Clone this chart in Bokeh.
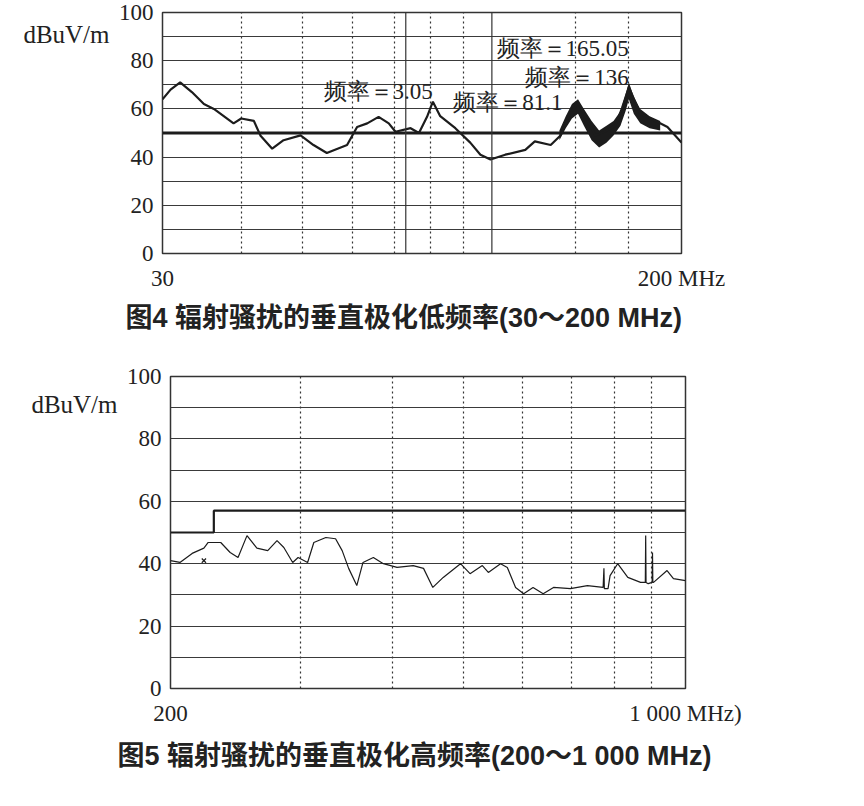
from bokeh.plotting import figure
from bokeh.models import Range1d, FixedTicker, Span, LinearAxis, ColumnDataSource
from bokeh.core.properties import value
from bokeh.embed import file_html
from bokeh.resources import INLINE

# ---------------- Figure 4 data (30-200 MHz) ----------------
f4_freq = [30, 30.9, 32.0, 33.4, 34.9, 36.2, 38.9, 40, 41.9, 42.9, 44.8, 46.7, 49.7,
           52.1, 54.7, 58.9, 61.1, 63.4, 66.1, 68.6, 70.3, 74.3, 76.6, 78.9, 80.6,
           82.8, 87.5, 92.4, 95.9, 99.5, 105, 113, 117, 124, 128.5, 133, 137, 141,
           146, 151, 157, 161, 165, 172, 182, 190, 200]
f4_level = [64, 68, 71, 67, 62, 60, 54, 56, 55, 49, 43.5, 47, 49,
            45, 41.7, 45, 52.5, 54, 56.7, 54, 50.5, 52, 50, 56.7, 63,
            57, 52, 46, 41, 39, 41, 43, 46.5, 45, 49, 58, 62.5, 56.5,
            49, 50.5, 53, 60.5, 69, 58, 55, 52.5, 46]
# noisy envelope of the trace between 128 and 185 MHz
f4_band_freq = [128, 131, 134, 137, 140, 144, 148, 152, 156, 160, 163, 165, 168, 172, 178, 185]
f4_band_hi = [51, 57, 62, 64, 60, 55, 51, 53, 55, 59, 66, 71, 65, 60, 57, 55]
f4_band_lo = [47, 52, 56, 58, 53, 47, 44, 46, 49, 53, 59, 64, 58, 54, 52, 51]
f4_limit_freq = [30, 200]
f4_limit_level = [50, 50]
f4_grid_dotted = [40, 50, 60, 70, 80, 90, 136, 165]
f4_grid_solid = [73, 100]
f4_ann_freq = [80.6, 129.4, 165, 165]
f4_ann_level = [67.2, 62.8, 72.9, 85]
f4_ann_text = ["频率＝3.05", "频率＝81.1", "频率＝136", "频率＝165.05"]
f4_xticks = [30, 200]
f4_xlabels = ["30", "200 MHz"]
caption4 = "图4  辐射骚扰的垂直极化低频率(30～200 MHz)"

# ---------------- Figure 5 data (200-1000 MHz) ----------------
f5_freq = [200, 206, 214, 222, 225, 234, 241, 247, 254, 262, 271, 279, 285, 293, 298,
           307, 313, 325, 335, 342, 349, 358, 365, 377, 389, 406, 427, 441, 454,
           469, 495, 510, 530, 540, 561, 573, 588, 603, 621, 641, 662, 698, 736,
           773, 775, 776, 785, 790, 809, 835, 869, 882, 883, 884, 890, 901, 902, 903,
           905, 944, 963, 1000]
f5_level = [41, 40.4, 43.3, 45, 46.8, 46.8, 43.6, 42, 49, 45, 44.2, 47.4, 45.2, 40.4, 42,
            40.4, 46.8, 48.4, 48, 44.2, 38.5, 33, 40.4, 42, 40, 38.8, 39.4, 38.5, 32.4,
            35.6, 40, 36.8, 39.4, 37.2, 40, 38.8, 32.4, 30.4, 32.4, 30.4, 32.4, 32, 33,
            32.4, 38.5, 32, 32, 36.2, 40, 35.6, 34, 34, 49, 34, 33.6, 34, 43.6, 34,
            34, 37.8, 35.2, 34.6]
f5_limit_freq = [200, 229, 229, 1000]
f5_limit_level = [50, 50, 57, 57]
f5_grid_dotted = [300, 400, 500, 600, 700, 800, 900]
f5_mark_freq = [222]
f5_mark_level = [41]
f5_xticks = [200, 1000]
f5_xlabels = ["200", "1 000 MHz)"]
caption5 = "图5  辐射骚扰的垂直极化高频率(200～1 000 MHz)"

y_label_ticks = [0, 20, 40, 60, 80, 100]
y_grid_ticks = [0, 10, 20, 30, 40, 50, 60, 70, 80, 90, 100]
unit_label = "dBuV/m"
unit_level = 91

SERIF = "Liberation Serif"
CAPTION_FONT = "Liberation Sans, Noto Sans CJK SC"
INK = "#1c1c1c"
TXT = "#222222"


def base_fig(xr, width, height, bl, br, bt, bb, caption, cap_offset, cap_standoff,
             xticks, xlabels, grid_dotted):
    p = figure(width=width, height=height, x_axis_type="log",
               x_range=Range1d(*xr), y_range=Range1d(0, 100),
               output_backend="svg", toolbar_location=None,
               min_border_left=bl, min_border_right=br,
               min_border_top=bt, min_border_bottom=bb,
               title=caption, title_location="below")
    p.background_fill_color = "white"
    p.border_fill_color = "white"
    p.outline_line_color = "#333333"
    p.outline_line_width = 1.5
    p.title.align = "left"
    p.title.offset = cap_offset
    p.title.text_font = CAPTION_FONT
    p.title.text_font_size = "27px"
    p.title.text_font_style = "bold"
    p.title.text_color = TXT
    p.title.standoff = cap_standoff

    p.yaxis.ticker = FixedTicker(ticks=y_label_ticks)
    p.ygrid.ticker = FixedTicker(ticks=y_grid_ticks)
    p.ygrid.grid_line_color = "#3a3a3a"
    p.ygrid.grid_line_width = 1.2
    p.xaxis.ticker = FixedTicker(ticks=xticks)
    p.xaxis.major_label_overrides = {t: s for t, s in zip(xticks, xlabels)}
    p.xgrid.ticker = FixedTicker(ticks=grid_dotted)
    p.xgrid.grid_line_color = "#333333"
    p.xgrid.grid_line_dash = "2 3"
    p.xgrid.grid_line_width = 1.2

    unit_axis = LinearAxis(ticker=FixedTicker(ticks=[unit_level]),
                           major_label_overrides={unit_level: unit_label})
    p.add_layout(unit_axis, "left")
    for ax in (p.xaxis[0], p.yaxis[0], unit_axis):
        ax.axis_line_color = None
        ax.major_tick_line_color = None
        ax.minor_tick_line_color = None
        ax.major_label_text_font = SERIF
        ax.major_label_text_font_size = "23px"
        ax.major_label_text_color = TXT
    unit_axis.major_label_text_font_size = "25px"
    p.yaxis[0].major_label_standoff = 3
    unit_axis.major_label_standoff = 0
    p.xaxis.major_label_standoff = 6
    return p


# ---------- Figure 4 ----------
p1 = base_fig((30, 200), 768, 343, 162, 87, 12, 90, caption4, -37, 14,
              f4_xticks, f4_xlabels, f4_grid_dotted)
for loc in f4_grid_solid:
    p1.add_layout(Span(location=loc, dimension="height", line_color="#333333", line_width=1.2))
p1.line(f4_limit_freq, f4_limit_level, line_color=INK, line_width=3)
p1.varea(x=f4_band_freq, y1=f4_band_lo, y2=f4_band_hi, fill_color=INK)
p1.line(f4_freq, f4_level, line_color=INK, line_width=2.2)
src4 = ColumnDataSource(dict(x=f4_ann_freq, y=f4_ann_level, t=f4_ann_text))
p1.text(x="x", y="y", text="t", source=src4, text_font=value(SERIF),
        text_font_size="23px", text_color=TXT, text_baseline="middle",
        text_align="right")

# ---------- Figure 5 ----------
p2 = base_fig((200, 1000), 768, 445, 170, 83, 33, 100, caption5, -53, 20,
              f5_xticks, f5_xlabels, f5_grid_dotted)
p2.line(f5_limit_freq, f5_limit_level, line_color=INK, line_width=2.2)
p2.line(f5_freq, f5_level, line_color=INK, line_width=1.2)
p2.scatter(f5_mark_freq, f5_mark_level, marker="x", size=6, line_color=INK, line_width=1.2)

open("out.html", "w").write(file_html([p1, p2], INLINE))
